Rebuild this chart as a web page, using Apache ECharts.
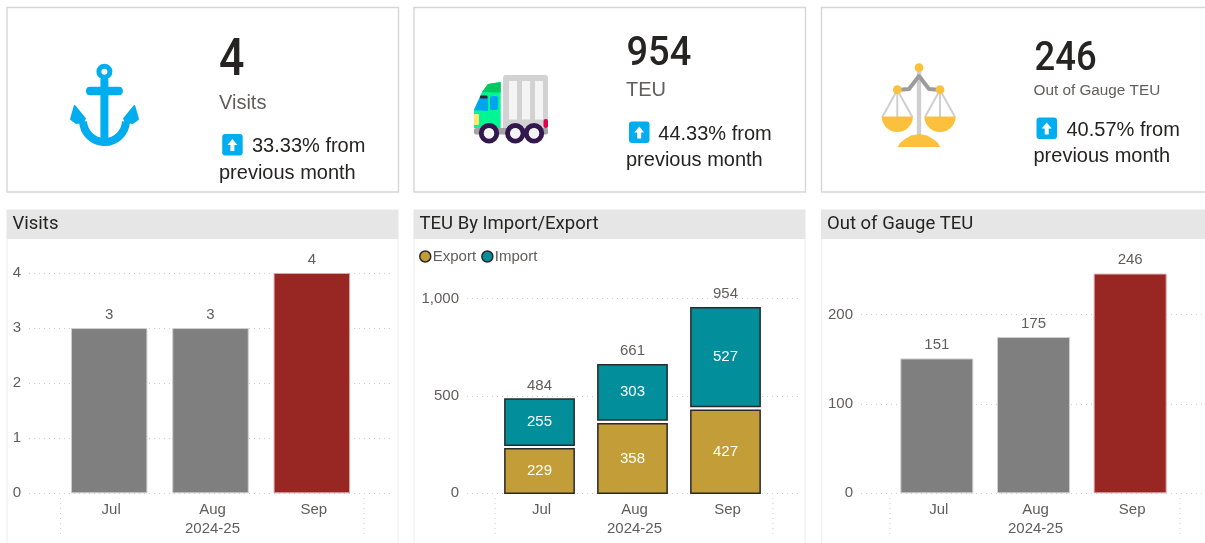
<!DOCTYPE html>
<html>
<head>
<meta charset="utf-8">
<style>html,body{margin:0;padding:0;background:#fff;overflow:hidden}#c{width:1205px;height:543px}</style>
<script src="https://cdn.jsdelivr.net/npm/echarts@6/dist/echarts.min.js"></script>
</head>
<body>
<div id="c"></div>
<script>
const months = ['Jul', 'Aug', 'Sep'];
const fiscalYear = '2024-25';
const visits = [3, 3, 4];
const exportTeu = [229, 358, 427];
const importTeu = [255, 303, 527];
const totalTeu = [484, 661, 954];
const gaugeTeu = [151, 175, 246];
const kpiValues = ['4', '954', '246'];
const kpiNames = ['Visits', 'TEU', 'Out of Gauge TEU'];
const kpiChanges = ['33.33% from', '44.33% from', '40.57% from'];
const kpiTail = 'previous month';
const panelTitles = ['Visits', 'TEU By Import/Export', 'Out of Gauge TEU'];

const SANS = '"Liberation Sans", Arial, sans-serif';
const DIN = 'Roboto, sans-serif';
const TXT = '#605E5C', GRID = '#cdcdcd', BLUE = '#00AEEF', GOLD = '#FBC13D';
const TEAL = '#028E9B', OCHRE = '#C39D37', RED = '#982724', GRAY = '#7F7F7F', EDGE = '#2a2a2a';

const g = [];
const R = (x, y, w, h, fill, r) => g.push({type:'rect', silent:true, shape:{x, y, width:w, height:h, r:r||0}, style:{fill}});
const C = (cx, cy, r, fill) => g.push({type:'circle', silent:true, shape:{cx, cy, r}, style:{fill}});
const P = (points, fill) => g.push({type:'polygon', silent:true, shape:{points}, style:{fill}});
const L = (points, stroke, lineWidth) => g.push({type:'polyline', silent:true, shape:{points}, style:{stroke, lineWidth, fill:null, lineJoin:'round'}});
const T = (text, x, y, font, fill, scaleX) => g.push({type:'text', silent:true, x, y, scaleX:scaleX||1, style:{text, x:0, y:0, font, fill, verticalAlign:'middle', align:'left'}});

// card frames and panel headings
const frames = [[7, 391.5], [414, 391.5], [821.5, 420]];
frames.forEach(([x, w], i) => {
  g.push({type:'rect', silent:true, shape:{x, y:7.5, width:w, height:184.5}, style:{fill:'#fff', stroke:'#d6d6d6', lineWidth:1.4}});
  R(x - 0.5, 209.5, w + 0.5, 29.5, '#E6E6E6');
  R(x - 0.5, 239, 1.2, 304, '#f0f0f0');
  R(x + w - 1, 239, 1.2, 304, '#f0f0f0');
  T(panelTitles[i], x + 5.5, 224, '400 18.5px ' + DIN, '#252423', 1.0);
});

// up-arrow badge
function badge(x, y) {
  R(x, y, 20.5, 21.5, BLUE, 3);
  const m = x + 10.2;
  P([[m, y+5],[m+5, y+11],[m+2, y+11],[m+2, y+17],[m-2, y+17],[m-2, y+11],[m-5, y+11]], '#fff');
}
// KPI text
T(kpiValues[0], 219, 62, '500 52px ' + DIN, '#252423', 0.86);
T(kpiNames[0], 219, 103, '20px ' + SANS, TXT);
badge(222.2, 134); T(kpiChanges[0], 252, 146.5, '20px ' + SANS, '#252423'); T(kpiTail, 219, 173, '20px ' + SANS, '#252423');

T(kpiValues[1], 626.5, 54.5, '500 40px ' + DIN, '#252423', 0.95);
T(kpiNames[1], 626, 90, '20px ' + SANS, TXT);
badge(629, 121.5); T(kpiChanges[1], 658.3, 134, '20px ' + SANS, '#252423'); T(kpiTail, 626, 160.5, '20px ' + SANS, '#252423');

T(kpiValues[2], 1034.5, 60, '500 40px ' + DIN, '#252423', 0.91);
T(kpiNames[2], 1033.5, 91, '15.3px ' + SANS, TXT);
badge(1036.5, 117.5); T(kpiChanges[2], 1066.5, 130, '20px ' + SANS, '#252423'); T(kpiTail, 1033.5, 156.5, '20px ' + SANS, '#252423');

// anchor icon
g.push({type:'arc', silent:true, shape:{cx:104.5, cy:120.5, r:21.5, startAngle:0.05, endAngle:Math.PI-0.05, clockwise:true}, style:{stroke:BLUE, lineWidth:8, fill:null}});
g.push({type:'ring', silent:true, shape:{cx:104.4, cy:71.7, r:8, r0:3}, style:{fill:BLUE}});
R(100.4, 79, 8, 62, BLUE);
R(86, 86.7, 36.8, 8.6, BLUE, 4);
P([[74,105],[75.5,105.5],[86,118.5],[84,123],[76,124],[70.5,120],[70,119]], BLUE);
P([[135,105],[133.5,105.5],[123,118.5],[125,123],[133,124],[138.5,120],[139,119]], BLUE);

// truck icon
R(503, 75, 45, 58, '#D2D2D2', 3);
[509, 522, 535].forEach(x => R(x, 81, 8, 38.5, '#F4F4F4'));
R(543.5, 119, 4.5, 9, '#E0004D', 2);
P([[474,110],[482,92],[488,84],[500.7,82],[500.7,128],[474,128]], '#00F593');
P([[482,92],[488,84],[500.7,82],[500.7,92.5]], '#00C95F');
P([[474,110],[480,97],[488,97],[488,111]], '#00A5F0');
R(480, 95.5, 7.5, 3, '#2A2A3A', 1);
R(490, 96, 8, 14, '#00A5F0', 2);
R(474, 114, 5, 11, '#FFE96B', 1);
R(474, 128, 74, 6.5, '#A3A3A3', 2);
[489, 515.3, 534].forEach(cx => g.push({type:'ring', silent:true, shape:{cx, cy:133.3, r:10.2, r0:5.2}, style:{fill:'#33184F'}}));
[489, 515.3, 534].forEach(cx => C(cx, 133.3, 5.2, '#F4F4F4'));

// scales icon
R(916.8, 70, 4.4, 66, '#CFCFCF');
L([[897,90],[909,89],[919,76],[929,89],[941,90]], '#9C9C9C', 4);
[[897.3],[940]].forEach(([c]) => {
  L([[c-15,117],[c,90],[c+15,117]], '#CFCFCF', 2);
  L([[c,90],[c,117]], '#CFCFCF', 2);
  g.push({type:'sector', silent:true, shape:{cx:c, cy:116.5, r:15.6, r0:0, startAngle:0, endAngle:Math.PI}, style:{fill:GOLD}});
  C(c, 89.7, 4.4, GOLD);
});
C(919, 67.7, 4.4, GOLD);
P([[897.7,147],[900,143],[905,139],[911,135.5],[919,134],[927,135.5],[933,139],[938,143],[940.3,147]], GOLD);

// vertical dotted ends of the category band
[[60.5, 364], [495, 773], [890, 1180]].forEach(pair => pair.forEach(x => {
  g.push({type:'line', silent:true, shape:{x1:x, y1:498, x2:x, y2:538}, style:{stroke:GRID, lineWidth:1, lineDash:[1,4]}});
}));

// ---- axes, one narrow grid (bars) plus one wide grid (gridlines and labels) per chart
const AXIS0 = 493.3;
const charts = [
  {band:[58.5, 304], wide:[29, 365], top:273, max:4, interval:1},
  {band:[493, 279], wide:[467, 331], top:298.7, max:1000, interval:500},
  {band:[888.5, 290], wide:[861, 344], top:270, max:300, interval:100, hideMax:true}
];
charts[2].top = AXIS0 - 300 * 0.893;
const grid = [], xAxis = [], yAxis = [];
charts.forEach(c => {
  const bottom = 543 - AXIS0;
  grid.push({left:c.band[0], width:c.band[1], top:c.top, bottom});
  grid.push({left:c.wide[0], width:c.wide[1], top:c.top, bottom});
  const n = grid.length;
  xAxis.push({gridIndex:n-2, type:'category', data:months, axisLine:{show:false}, axisTick:{show:false}, splitLine:{show:false},
    axisLabel:{color:TXT, fontSize:15, fontFamily:SANS, margin:9, padding:[0,0,0,4]},
    name:fiscalYear, nameLocation:'middle', nameGap:28.5, nameTextStyle:{color:TXT, fontSize:15, fontFamily:SANS, padding:[0,0,0,4]}});
  xAxis.push({gridIndex:n-1, type:'value', show:false, min:0, max:1});
  yAxis.push({gridIndex:n-2, type:'value', show:false, min:0, max:c.max, interval:c.interval, splitLine:{show:false}});
  yAxis.push({gridIndex:n-1, type:'value', min:0, max:c.max, interval:c.interval,
    axisLine:{show:false}, axisTick:{show:false},
    splitLine:{show:true, showMaxLine:!c.hideMax, lineStyle:{color:GRID, type:[1,4], width:1}},
    axisLabel:{color:TXT, fontSize:15, fontFamily:SANS, margin:8, showMaxLabel:!c.hideMax,
      formatter:v => v.toLocaleString('en-US')}});
});

function simpleBars(name, values, axisIdx) {
  const last = values.length - 1;
  return {type:'bar', name, xAxisIndex:axisIdx, yAxisIndex:axisIdx, barWidth:'75.5%', silent:true,
    data:values.map((v, i) => ({value:v, itemStyle:{color:i === last ? RED : GRAY, borderColor:i === last ? '#dca6a6' : '#cfcfcf', borderWidth:1}})),
    label:{show:true, position:'top', distance:6, color:TXT, fontSize:15, fontFamily:SANS}};
}
function stackSeg(params, api) {
  const cat = api.value(0), lo = api.value(1), hi = api.value(2);
  const a = api.coord([cat, lo]), b = api.coord([cat, hi]);
  const w = api.size([1, 0])[0] * 0.745;
  const inset = lo > 0 ? 3.6 : 0;
  return {type:'rect',
    shape:{x:a[0] - w/2, y:b[1], width:w, height:a[1] - b[1] - inset},
    style:{fill:api.visual('color'), stroke:EDGE, lineWidth:1.5},
    textContent:{style:{text:String(hi - lo), fill:'#fff', font:'15px ' + SANS}},
    textConfig:{position:'inside'}};
}
const series = [
  simpleBars('Visits', visits, 0),
  {type:'custom', name:'Export', xAxisIndex:2, yAxisIndex:2, renderItem:stackSeg, encode:{x:0, y:[1,2]}, silent:true,
    itemStyle:{color:OCHRE}, data:months.map((m,i) => [i, 0, exportTeu[i]])},
  {type:'custom', name:'Import', xAxisIndex:2, yAxisIndex:2, renderItem:stackSeg, encode:{x:0, y:[1,2]}, silent:true,
    itemStyle:{color:TEAL}, data:months.map((m,i) => [i, exportTeu[i], exportTeu[i] + importTeu[i]])},
  {type:'line', name:'Total', xAxisIndex:2, yAxisIndex:2, data:totalTeu, symbolSize:0, lineStyle:{width:0, opacity:0}, silent:true,
    label:{show:true, position:'top', distance:6, color:TXT, fontSize:15, fontFamily:SANS}},
  simpleBars('Out of Gauge TEU', gaugeTeu, 4)
];

const chart = echarts.init(document.getElementById('c'), null, {renderer:'canvas'});
chart.setOption({
  animation:false,
  backgroundColor:'#fff',
  graphic:{elements:g},
  grid, xAxis, yAxis, series,
  tooltip:{show:false},
  legend:{data:['Export','Import'], left:414, top:244, icon:'circle', itemWidth:11, itemHeight:11, itemGap:5,
    itemStyle:{borderColor:EDGE, borderWidth:1.5},
    textStyle:{color:TXT, fontSize:15, fontFamily:SANS, padding:[0,0,0,-3]}, selectedMode:false}
});
</script>
</body>
</html>
